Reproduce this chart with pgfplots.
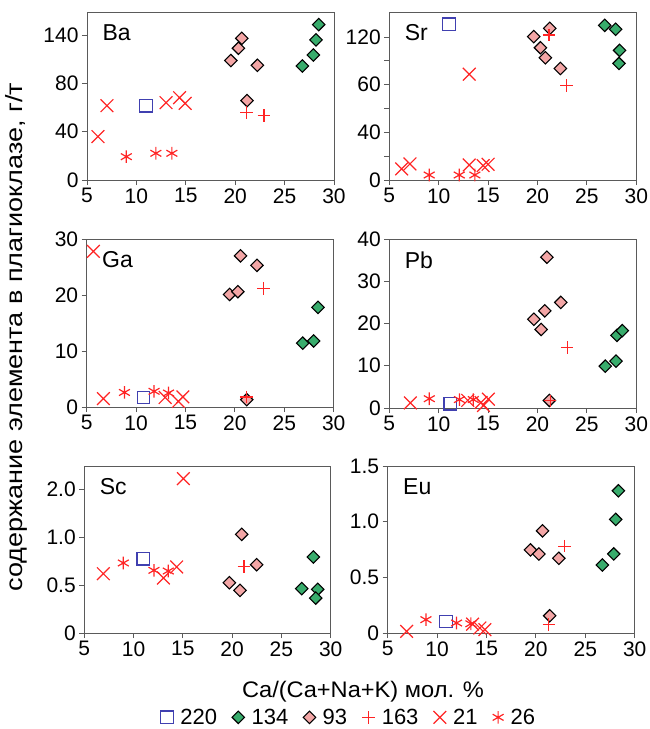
\documentclass[border=0pt]{standalone}
\usepackage{fontspec}
\setmainfont{Liberation Sans}
\usepackage{graphicx}
\usepackage{pgfplots}
\pgfplotsset{compat=1.18}

\definecolor{axgray}{RGB}{90,90,90}
\definecolor{sqblue}{RGB}{64,64,176}
\definecolor{dgreen}{RGB}{56,172,108}
\definecolor{lpink}{RGB}{243,166,166}
\definecolor{mred}{RGB}{255,36,36}

\pgfplotsset{
  panel/.style={
    scale only axis, width=247pt, height=168pt,
    xmin=5, xmax=30, xtick={5,10,...,30},
    tick align=outside, tick pos=left,
    major tick length=5pt, minor tick length=5pt,
    axis line style={draw=axgray, line width=0.9pt},
    every tick/.style={draw=axgray, line width=0.9pt},
    tick label style={font=\fontsize{21}{22}\selectfont, text=black},
    /pgf/number format/assume math mode=true,
    clip=false, anchor=north west,
  },
  s220/.style={only marks, color=sqblue, mark=square, mark size=6.3pt,
    mark options={draw=sqblue, line width=1.2pt}},
  s134/.style={only marks, color=dgreen, mark=square*, mark size=4.4pt,
    mark options={rotate=45, fill=dgreen, draw=black, line width=1.1pt}},
  s93/.style={only marks, color=lpink, mark=square*, mark size=4.4pt,
    mark options={rotate=45, fill=lpink, draw=black, line width=1.1pt}},
  s163/.style={only marks, color=mred, mark=+, mark size=6.3pt,
    mark options={draw=mred, line width=1.2pt}},
  s21/.style={only marks, color=mred, mark=x, mark size=9pt,
    mark options={draw=mred, line width=1.2pt}},
  s26/.style={only marks, color=mred, mark=asterisk, mark size=6.3pt,
    mark options={draw=mred, line width=1.2pt}},
}
\newcommand{\lbl}[1]{\node[anchor=west, xshift=12pt, yshift=-21pt,
  font=\fontsize{23}{25}\selectfont] at (rel axis cs:0,1) {#1};}

\begin{document}
\begin{tikzpicture}
\useasboundingbox (0,0) rectangle (650pt,-729pt);

% Ba
\begin{axis}[panel, at={(87pt,-12pt)}, ymin=0, ymax=139,
  ytick={0,40,80,120}, yticklabels={0,40,80,140}]
\addplot[s220] coordinates {(10.96,61.5)};
\addplot[s134] coordinates {(26.8,94.3) (27.91,103.4) (28.18,115.9) (28.45,128.6)};
\addplot[s93] coordinates {(19.56,98.8) (20.33,109) (20.67,117.2) (22.25,94.9) (21.2,65.7)};
\addplot[s163] coordinates {(21.17,55.7) (22.92,53.5)};
\addplot[s21] coordinates {(6.11,35.9) (7.02,61.5) (13.0,64) (14.37,68.1) (14.94,63.4)};
\addplot[s26] coordinates {(8.98,19.3) (11.97,22.1) (13.59,22.1)};
\lbl{Ba}
\end{axis}

% Sr
\begin{axis}[panel, at={(389.3pt,-12pt)}, ymin=0, ymax=141,
  ytick={0,40,80,120}, yticklabels={0,40,60,120}, minor ytick={20,60,100}]
\addplot[s220] coordinates {(11.06,130.7)};
\addplot[s134] coordinates {(26.8,129.8) (27.91,126.5) (28.31,108.8) (28.25,97.8)};
\addplot[s93] coordinates {(19.62,120.3) (20.3,111) (20.8,102.6) (21.24,127.3) (22.32,93.6)};
\addplot[s163] coordinates {(21.17,121.7) (22.92,79.3)};
\addplot[s21] coordinates {(6.25,9.3) (7.09,13.5) (13.09,12.6) (13.09,88.8) (14.5,12.1) (15.0,13.2)};
\addplot[s26] coordinates {(9.04,4.2) (12.08,4.2) (13.66,4.2)};
\lbl{Sr}
\end{axis}

% Ga
\begin{axis}[panel, at={(86.7pt,-239pt)}, ymin=0, ymax=30,
  ytick={0,10,20,30}]
\addplot[s220] coordinates {(10.74,1.7)};
\addplot[s134] coordinates {(26.86,11.4) (27.97,11.8) (28.41,17.8)};
\addplot[s93] coordinates {(19.46,20.1) (20.3,20.6) (20.57,27.0) (22.23,25.3) (21.2,1.3)};
\addplot[s163] coordinates {(21.15,1.8) (22.9,21.2)};
\addplot[s21] coordinates {(5.68,27.8) (6.69,1.5) (12.94,1.7) (14.29,1.0) (14.73,1.8)};
\addplot[s26] coordinates {(8.82,2.6) (11.82,2.8) (13.28,2.5)};
\lbl{Ga}
\end{axis}

% Pb
\begin{axis}[panel, at={(389.3pt,-239pt)}, height=169pt, ymin=0, ymax=40,
  ytick={0,10,20,30,40}]
\addplot[s220] coordinates {(11.18,1.0)};
\addplot[s134] coordinates {(26.86,9.9) (27.94,11.1) (28.04,17.2) (28.58,18.3)};
\addplot[s93] coordinates {(19.63,21.0) (20.37,18.6) (20.74,23.0) (20.95,35.7) (22.36,25.0) (21.2,1.8)};
\addplot[s163] coordinates {(21.28,1.7) (23.0,14.3)};
\addplot[s21] coordinates {(7.13,1.2) (12.94,1.8) (14.29,1.3) (14.53,0.6) (15.03,2.1)};
\addplot[s26] coordinates {(9.05,2.2) (12.1,2.0) (13.5,2.0)};
\lbl{Pb}
\end{axis}

% Sc
\begin{axis}[panel, at={(84.3pt,-466pt)}, width=246.4pt, height=167pt,
  ymin=0, ymax=1.743,
  ytick={0,0.5,1,1.5}, yticklabels={0,0.5,1.0,2.0},
  legend columns=6,
  legend style={at={(rel axis cs:1.074,-0.505)}, anchor=center, draw=none,
    fill=none, font=\fontsize{22}{24}\selectfont,
    /tikz/every odd column/.append style={column sep=5pt},
    /tikz/every even column/.append style={column sep=13pt}},
  legend cell align=left]
\addplot[s220] coordinates {(10.99,0.776)};
\addlegendentry{220}
\addplot[s134] coordinates {(27.06,0.463) (28.24,0.793) (28.68,0.456) (28.48,0.365)};
\addlegendentry{134}
\addplot[s93] coordinates {(19.72,0.525) (20.8,0.445) (20.97,1.03) (22.49,0.713)};
\addlegendentry{93}
\addplot[s163] coordinates {(21.2,0.696)};
\addlegendentry{163}
\addplot[s21] coordinates {(6.93,0.619) (13.03,0.574) (14.37,0.689) (15.05,1.611)};
\addlegendentry{21}
\addplot[s26] coordinates {(8.96,0.731) (12.07,0.654) (13.52,0.647)};
\addlegendentry{26}
\lbl{Sc}
\end{axis}

% Eu
\begin{axis}[panel, at={(387.7pt,-466pt)}, height=167pt, ymin=0, ymax=1.5,
  ytick={0,0.5,1,1.5}, yticklabels={0,0.5,1.0,1.5}]
\addplot[s220] coordinates {(10.9,0.104)};
\addplot[s134] coordinates {(26.73,0.611) (27.88,0.71) (28.08,1.02) (28.35,1.277)};
\addplot[s93] coordinates {(19.45,0.746) (20.3,0.71) (20.67,0.918) (22.32,0.671) (21.4,0.155)};
\addplot[s163] coordinates {(21.31,0.075) (22.92,0.78)};
\addplot[s21] coordinates {(6.92,0.015) (13.59,0.08) (14.33,0.045) (14.84,0.03)};
\addplot[s26] coordinates {(8.87,0.12) (11.97,0.09) (13.42,0.083)};
\lbl{Eu}
\end{axis}

\node[rotate=90, font=\fontsize{23.5}{26}\selectfont] at (16pt,-337pt)
  {\scalebox{1.15}[1]{содержание элемента в плагиоклазе, г/т}};
\node[font=\fontsize{22.5}{24}\selectfont] at (363pt,-692pt)
  {\scalebox{1.05}[1]{Ca/(Ca+Na+K) мол. \%}};
\end{tikzpicture}
\end{document}
